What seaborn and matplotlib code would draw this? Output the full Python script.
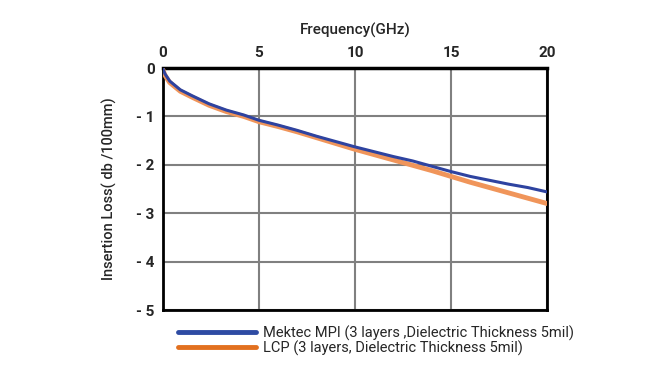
import numpy as np
import pandas as pd
import seaborn as sns
import matplotlib.pyplot as plt

# Data
freq = [0, 0.1, 0.35, 0.9, 1.5, 2.4, 3.3, 4.2, 5, 6, 7, 8, 9, 10,
        11, 12, 13, 14, 15, 16, 17, 18, 19, 20]
mpi_loss = [-0.02, -0.12, -0.27, -0.45, -0.57, -0.74, -0.87, -0.97, -1.08, -1.18, -1.29, -1.41,
            -1.52, -1.63, -1.73, -1.83, -1.92, -2.03, -2.14, -2.24, -2.32, -2.40, -2.47, -2.56]
lcp_loss = [-0.04, -0.15, -0.30, -0.48, -0.60, -0.77, -0.90, -1.00, -1.11, -1.21, -1.32, -1.44,
            -1.56, -1.68, -1.79, -1.90, -2.01, -2.12, -2.24, -2.36, -2.47, -2.58, -2.69, -2.80]
x_ticks = [0, 5, 10, 15, 20]
y_ticks = [0, -1, -2, -3, -4, -5]
y_tick_labels = ["0", "- 1", "- 2", "- 3", "- 4", "- 5"]

mpi_label = "Mektec MPI (3 layers ,Dielectric Thickness 5mil)"
lcp_label = "LCP (3 layers, Dielectric Thickness 5mil)"

df = pd.DataFrame({"freq": freq, "mpi": mpi_loss, "lcp": lcp_loss})

sns.set_style("white")
plt.rcParams['font.family'] = ['Roboto', 'DejaVu Sans']

fig = plt.figure(figsize=(6.49, 3.71), dpi=100)
ax = fig.add_axes([163 / 649, 61 / 371, 384 / 649, 242 / 371])

sns.lineplot(data=df, x="freq", y="lcp", ax=ax, color="#f0955a", linewidth=3.5, zorder=3)
sns.lineplot(data=df, x="freq", y="mpi", ax=ax, color="#2e43a0", linewidth=2.2, zorder=4)

ax.set_xlim(0, 20)
ax.set_ylim(-5, 0)
ax.xaxis.tick_top()
ax.xaxis.set_label_position("top")
ax.set_xticks(x_ticks)
ax.set_yticks(y_ticks)
ax.set_yticklabels(y_tick_labels)
ax.tick_params(length=0, labelsize=11, pad=6)
for lbl in ax.get_xticklabels() + ax.get_yticklabels():
    lbl.set_fontweight("bold")

ax.set_xlabel("Frequency(GHz)", fontsize=11, fontweight="medium", labelpad=8)
ax.set_ylabel("Insertion Loss( db /100mm)", fontsize=10.5, fontweight="medium", labelpad=14)

ax.grid(True, color="#808080", linewidth=1.5)
ax.set_axisbelow(True)
for side in ["top", "bottom", "left", "right"]:
    ax.spines[side].set_color("black")
    ax.spines[side].set_linewidth(2)
ax.spines["top"].set_linewidth(2.5)

handles = [plt.Line2D([], [], color="#2e4ba3", linewidth=3.5),
           plt.Line2D([], [], color="#e2701f", linewidth=3.5)]
fig.legend(handles, [mpi_label, lcp_label], loc="upper left",
           bbox_to_anchor=(171 / 649, 1 - 318 / 371), frameon=False,
           fontsize=10.5, handlelength=5.3, handletextpad=0.5, labelspacing=0.0,
           borderpad=0)

fig.savefig("out.png", dpi=100)
